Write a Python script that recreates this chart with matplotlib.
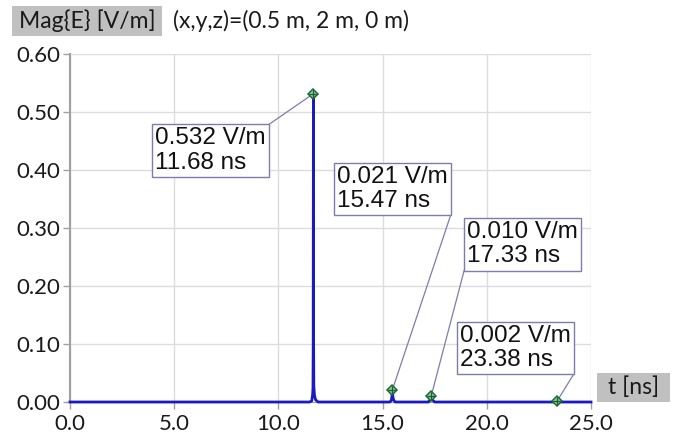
import matplotlib.pyplot as plt
from matplotlib.patches import Rectangle

# Field magnitude over time at the probe point
t_ns = [0.0, 11.50, 11.60, 11.64, 11.66, 11.67, 11.68, 11.69, 11.70, 11.73, 11.78, 11.90,
        15.35, 15.42, 15.45, 15.47, 15.49, 15.52, 15.60, 17.20, 17.28, 17.33, 17.38, 17.50,
        23.30, 23.38, 23.46, 25.0]
mag_e = [0.0, 0.0, 0.002, 0.012, 0.025, 0.10, 0.532, 0.10, 0.028, 0.012, 0.004, 0.0,
         0.0, 0.003, 0.010, 0.021, 0.010, 0.004, 0.0, 0.0, 0.004, 0.010, 0.004, 0.0,
         0.0, 0.002, 0.0, 0.0]

# Marked peaks and the lower-left corner of each label box (data coords)
peak_t = [11.68, 15.47, 17.33, 23.38]
peak_v = [0.532, 0.021, 0.010, 0.002]
box_xy = [(3.90, 0.387), (12.60, 0.320), (18.86, 0.225), (18.50, 0.046)]

x_ticks = [0, 5, 10, 15, 20, 25]
y_ticks = [0.0, 0.1, 0.2, 0.3, 0.4, 0.5, 0.6]

tick_font = ['Lato', 'DejaVu Sans']
box_font = ['Liberation Sans', 'DejaVu Sans']

W, H = 677, 442
fig = plt.figure(figsize=(W / 100, H / 100), dpi=100)
ax = fig.add_axes([70 / W, 1 - 402 / H, 521 / W, (402 - 54.3) / H])

ax.plot(t_ns, mag_e, color='#1a1ac0', lw=2.0, zorder=3, clip_on=False)

ax.set_xlim(0, 25)
ax.set_ylim(0, 0.6)
ax.set_xticks(x_ticks)
ax.set_yticks(y_ticks)
ax.set_xticklabels([f'{v:.1f}' for v in x_ticks], family=tick_font, fontsize=16)
ax.set_yticklabels([f'{v:.2f}' for v in y_ticks], family=tick_font, fontsize=16)
ax.tick_params(axis='both', colors='#a0a0a0', labelcolor='#1a1a1a', length=5, width=1)
ax.tick_params(axis='x', pad=4)
ax.tick_params(axis='y', pad=2)
ax.grid(True, color='#dcdcdc', lw=1)
ax.set_axisbelow(True)
for side in ['top', 'right']:
    ax.spines[side].set_visible(False)
ax.spines['left'].set_color('#a0a0a0')
ax.spines['bottom'].set_color('#a0a0a0')
ax.spines['left'].set_linewidth(1.5)

# peak markers: green diamond with a cross
ax.plot(peak_t, peak_v, 'D', ms=5, mfc='#8fd08f', mec='#1e6b3a', mew=1.1, zorder=5, clip_on=False)
ax.plot(peak_t, peak_v, '+', ms=6, mec='#1e5a3a', mew=0.9, zorder=6, clip_on=False)

# value labels with leader lines
pad_pts = 2.2
for pt, pv, (bx, by) in zip(peak_t, peak_v, box_xy):
    txt = ax.annotate(f'{pv:.3f} V/m\n{pt:.2f} ns', xy=(bx, by), xytext=(pad_pts + 0.8, pad_pts + 0.8),
                      textcoords='offset points', family=box_font, fontsize=17.5,
                      color='#111111', ha='left', va='bottom', linespacing=1.13, zorder=7,
                      bbox=dict(boxstyle=f'square,pad={pad_pts / 17.5:.3f}', fc='white',
                                ec='#7d7dab', lw=1))
    fig.canvas.draw()
    bb = txt.get_bbox_patch().get_window_extent().transformed(ax.transData.inverted())
    if pv > 0.3:
        cx, cy = bb.x1, bb.y1
    elif pt < 16 or pt > 20:
        cx, cy = bb.x1, bb.y0
    else:
        cx, cy = bb.x0, bb.y0
    ax.plot([cx, pt], [cy, pv], color='#7d7dab', lw=0.9, zorder=4, clip_on=False)

# header and axis-unit tags on gray backgrounds
def gray_tag(x0, y0, x1, y1):
    fig.patches.append(Rectangle((x0 / W, 1 - y1 / H), (x1 - x0) / W, (y1 - y0) / H,
                                 transform=fig.transFigure, fc='#c0c0c0', ec='none', zorder=0))

gray_tag(12, 6, 162, 36)
gray_tag(597, 373, 670, 402)
fig.text(87 / W, 1 - 21 / H, 'Mag{E} [V/m]', family=tick_font, fontsize=16.5, va='center',
         ha='center', color='#1a1a1a')
fig.text(173 / W, 1 - 21 / H, '(x,y,z)=(0.5 m, 2 m, 0 m)', family=tick_font, fontsize=16.5,
         va='center', ha='left', color='#1a1a1a')
fig.text(633.5 / W, 1 - 387 / H, 't [ns]', family=tick_font, fontsize=16.5, va='center',
         ha='center', color='#1a1a1a')

fig.savefig('out.png', dpi=100)
